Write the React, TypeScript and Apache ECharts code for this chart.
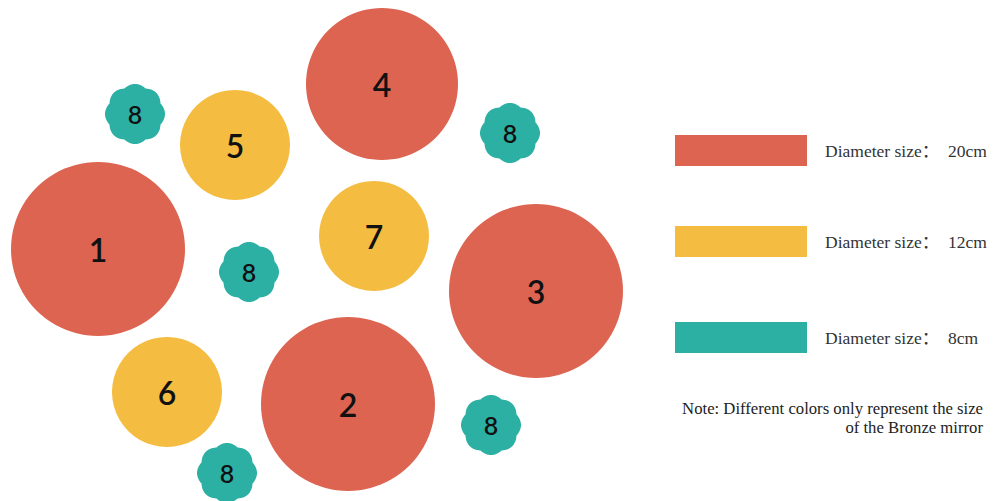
import React, { useEffect, useRef } from "react";
import * as echarts from "echarts";

// Large mirrors (20cm)
const redLabels = ["1", "2", "3", "4"];
const redX = [98, 348, 536, 382];
const redY = [249, 404, 291, 84];
const redDiam = [174, 174, 174, 152];

// Medium mirrors (12cm)
const yellowLabels = ["5", "6", "7"];
const yellowX = [235, 167, 374];
const yellowY = [145, 392, 236];
const yellowDiam = [110, 110, 110];

// Small mirrors (8cm)
const tealLabels = ["8", "8", "8", "8", "8"];
const tealX = [135, 510, 249, 491, 227];
const tealY = [114, 133, 272, 425, 473];
const tealDiam = [60, 60, 60, 60, 60];

const seriesNames = ["Diameter size：  20cm", "Diameter size：  12cm", "Diameter size：  8cm"];
const noteLines = ["Note: Different colors only represent the size", "of the Bronze mirror"];

const COLORS = ["#DC6451", "#F4BC40", "#2DB0A4"];

function flowerPath(): string {
  const steps = 240;
  let d = "";
  for (let i = 0; i < steps; i++) {
    const t = (i / steps) * Math.PI * 2;
    const rad = 92 + 8 * Math.abs(Math.cos(4 * t));
    const x = (rad * Math.sin(t)).toFixed(2);
    const y = (-rad * Math.cos(t)).toFixed(2);
    d += (i === 0 ? "M" : " L") + x + " " + y;
  }
  return "path://" + d + " Z";
}

function build(labels: string[], xs: number[], ys: number[], sizes: number[]) {
  return labels.map((l, i) => ({ name: l, value: [xs[i], ys[i]], symbolSize: sizes[i] }));
}

export default function App() {
  const ref = useRef<HTMLDivElement>(null);
  useEffect(() => {
    if (!ref.current) return;
    const chart = echarts.init(ref.current, undefined, { renderer: "svg" });
    const labelBase = {
      show: true,
      position: "inside" as const,
      formatter: "{b}",
      color: "#111",
      fontFamily: "Lato",
      fontWeight: 600,
    };
    const legendBase = {
      left: 670,
      padding: 5,
      orient: "vertical" as const,
      icon: "rect",
      itemWidth: 132,
      itemHeight: 31,
      selectedMode: false,
      textStyle: {
        fontFamily: "'Liberation Serif', 'Noto Sans CJK SC', serif",
        fontSize: 17.5,
        color: "#333",
        padding: [0, 0, 0, 13],
      },
    };
    chart.setOption({
      animation: false,
      grid: { left: 0, right: 0, top: 0, bottom: 0 },
      xAxis: { type: "value", min: 0, max: 993, show: false },
      yAxis: { type: "value", min: 0, max: 501, inverse: true, show: false },
      legend: [
        { ...legendBase, top: 130, data: [seriesNames[0]] },
        { ...legendBase, top: 221, data: [seriesNames[1]] },
        { ...legendBase, top: 317, data: [seriesNames[2]] },
      ],
      graphic: [
        {
          type: "text",
          x: 983,
          y: 408,
          style: {
            text: noteLines[0],
            align: "right",
            verticalAlign: "middle",
            fontFamily: "'Liberation Serif', serif",
            fontSize: 16.7,
            fill: "#222",
          },
        },
        {
          type: "text",
          x: 983,
          y: 427,
          style: {
            text: noteLines[1],
            align: "right",
            verticalAlign: "middle",
            fontFamily: "'Liberation Serif', serif",
            fontSize: 16.7,
            fill: "#222",
          },
        },
      ],
      series: [
        {
          name: seriesNames[0],
          type: "scatter",
          symbol: "circle",
          itemStyle: { color: COLORS[0], opacity: 1 },
          label: { ...labelBase, fontSize: 32 },
          data: build(redLabels, redX, redY, redDiam),
        },
        {
          name: seriesNames[1],
          type: "scatter",
          symbol: "circle",
          itemStyle: { color: COLORS[1], opacity: 1 },
          label: { ...labelBase, fontSize: 32 },
          data: build(yellowLabels, yellowX, yellowY, yellowDiam),
        },
        {
          name: seriesNames[2],
          type: "scatter",
          symbol: flowerPath(),
          itemStyle: { color: COLORS[2], opacity: 1 },
          label: { ...labelBase, fontSize: 25 },
          data: build(tealLabels, tealX, tealY, tealDiam),
        },
      ],
    });
    return () => chart.dispose();
  }, []);
  return (
    <div
      ref={ref}
      style={{ position: "fixed", left: 0, top: 0, width: 993, height: 501, background: "#fff" }}
    />
  );
}
